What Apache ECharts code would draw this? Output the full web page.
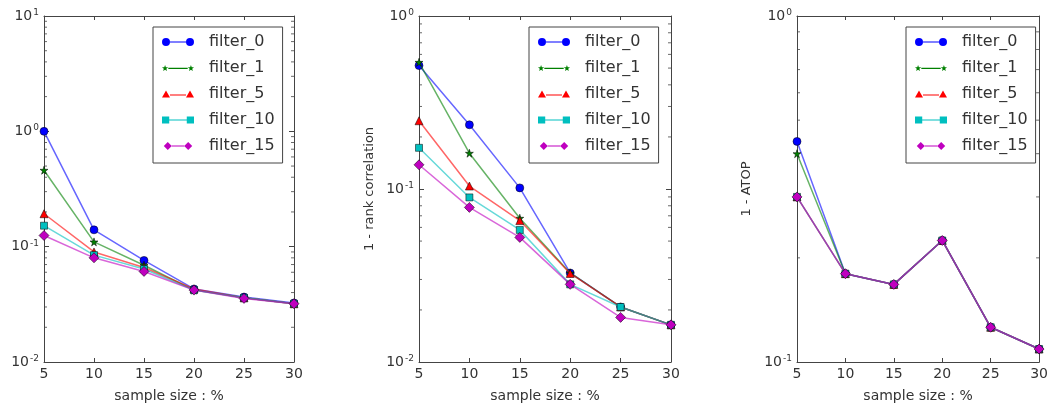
<!DOCTYPE html>
<html>
<head>
<meta charset="utf-8">
<script src="https://cdn.jsdelivr.net/npm/echarts@6/dist/echarts.min.js"></script>
<style>
  html, body { margin: 0; padding: 0; background: #fff; }
  #chart { width: 1051px; height: 408px; }
</style>
</head>
<body>
<div id="chart"></div>
<script>
const sampleSizes = [5, 10, 15, 20, 25, 30]
const filterNames = ['filter_0', 'filter_1', 'filter_5', 'filter_10', 'filter_15']

// panel 1 (no y label)
const errFilter0 = [1.0, 0.14, 0.076, 0.043, 0.0366, 0.0325]
const errFilter1 = [0.46, 0.11, 0.069, 0.042, 0.036, 0.032]
const errFilter5 = [0.193, 0.090, 0.066, 0.043, 0.036, 0.032]
const errFilter10 = [0.152, 0.0845, 0.064, 0.042, 0.036, 0.032]
const errFilter15 = [0.125, 0.080, 0.061, 0.042, 0.0356, 0.032]

// panel 2 : 1 - rank correlation
const rankFilter0 = [0.517, 0.235, 0.1015, 0.0327, 0.0208, 0.0164]
const rankFilter1 = [0.54, 0.161, 0.0678, 0.0327, 0.0208, 0.0164]
const rankFilter5 = [0.248, 0.104, 0.0657, 0.0325, 0.0208, 0.0164]
const rankFilter10 = [0.173, 0.0894, 0.058, 0.0281, 0.0208, 0.0164]
const rankFilter15 = [0.138, 0.0783, 0.0525, 0.0281, 0.0181, 0.0164]

// panel 3 : 1 - ATOP
const atopFilter0 = [0.434, 0.180, 0.1676, 0.2245, 0.126, 0.109]
const atopFilter1 = [0.400, 0.180, 0.1676, 0.2245, 0.126, 0.109]
const atopFilter5 = [0.300, 0.180, 0.1676, 0.2245, 0.126, 0.109]
const atopFilter10 = [0.300, 0.180, 0.1676, 0.2245, 0.126, 0.109]
const atopFilter15 = [0.300, 0.180, 0.1676, 0.2245, 0.126, 0.109]

const panels = [
  { yName: '', yMin: 0.01, yMax: 10, left: 44, width: 250, legendLeft: 153, nameGap: 43,
    data: [errFilter0, errFilter1, errFilter5, errFilter10, errFilter15] },
  { yName: '1 - rank correlation', yMin: 0.01, yMax: 1, left: 419, width: 252, legendLeft: 529, nameGap: 43,
    data: [rankFilter0, rankFilter1, rankFilter5, rankFilter10, rankFilter15] },
  { yName: '1 - ATOP', yMin: 0.1, yMax: 1, left: 797, width: 250, legendLeft: 906, nameGap: 44,
    data: [atopFilter0, atopFilter1, atopFilter5, atopFilter10, atopFilter15] }
]

const colors = ['#0000ff', '#008000', '#ff0000', '#00bfbf', '#bf00bf']
const starSym = 'path://M50,0L61,35L98,35L68,57L79,91L50,70L21,91L32,57L2,35L39,35Z'
const symbols = ['circle', starSym, 'triangle', 'rect', 'diamond']
const symbolSizes = [8, 8, 8, 7, 10]

const axisColor = '#444'
const textColor = '#333'
const font = 'DejaVu Sans'

// legend icons : line with a marker at each end
const circ = (cx, cy, r) => `M${cx - r},${cy}a${r},${r} 0 1,0 ${2 * r},0a${r},${r} 0 1,0 ${-2 * r},0Z`
const tri = (cx, cy, r) => `M${cx},${cy - r}L${cx + r},${cy + r * 0.8}L${cx - r},${cy + r * 0.8}Z`
const sq = (cx, cy, r) => `M${cx - r},${cy - r}H${cx + r}V${cy + r}H${cx - r}Z`
const dia = (cx, cy, r) => `M${cx},${cy - r}L${cx + r},${cy}L${cx},${cy + r}L${cx - r},${cy}Z`
const star = (cx, cy, r) => {
  let s = ''
  for (let i = 0; i < 10; i++) {
    const a = -Math.PI / 2 + i * Math.PI / 5
    const rr = i % 2 ? r * 0.42 : r
    s += (i ? 'L' : 'M') + (cx + rr * Math.cos(a)).toFixed(2) + ',' + (cy + rr * Math.sin(a)).toFixed(2)
  }
  return s + 'Z'
}
const seg = (a, b, cy) => `M${a},${cy - 0.6}H${b}V${cy + 0.6}H${a}Z`
const legendIcons = [
  'path://' + circ(4, 4, 4) + seg(8, 24, 4) + circ(28, 4, 4),
  'path://' + star(4, 4, 3) + seg(7, 25, 4) + star(28, 4, 3),
  'path://' + tri(4, 4, 4) + seg(8, 24, 4.6) + tri(28, 4, 4),
  'path://' + sq(4, 4, 3.5) + seg(7.5, 24.5, 4) + sq(28, 4, 3.5),
  'path://' + dia(4.5, 4.5, 4.5) + seg(9, 23, 4.5) + dia(27.5, 4.5, 4.5)
]

const supLabel = v => {
  const e = Math.round(Math.log10(v))
  return '{b|10}{s|' + e + '}'
}

// minor log ticks 2..9 of every decade
const minorValues = (lo, hi, x) => {
  const out = []
  for (let e = Math.round(Math.log10(lo)); e < Math.round(Math.log10(hi)); e++) {
    for (let k = 2; k <= 9; k++) out.push([x, k * Math.pow(10, e)])
  }
  return out
}

const grid = []
const xAxis = []
const yAxis = []
const series = []
const legend = []

panels.forEach((p, i) => {
  grid.push({ left: p.left, top: 16, width: p.width, height: 349, show: false })
  const xBase = {
    gridIndex: i, type: 'value', min: 5, max: 30, interval: 5,
    axisLine: { show: true, lineStyle: { color: axisColor, width: 1 } },
    axisTick: { show: true, inside: true, length: 4, lineStyle: { color: axisColor } },
    splitLine: { show: false }
  }
  xAxis.push(Object.assign({}, xBase, {
    position: 'bottom',
    name: 'sample size : %', nameLocation: 'middle', nameGap: 27,
    nameTextStyle: { fontFamily: font, fontSize: 14, color: textColor },
    axisLabel: { fontFamily: font, fontSize: 14, color: textColor, margin: 5 }
  }))
  xAxis.push(Object.assign({}, xBase, { position: 'top', axisLabel: { show: false } }))
  const yBase = {
    gridIndex: i, type: 'log', logBase: 10, min: p.yMin, max: p.yMax,
    axisLine: { show: true, lineStyle: { color: axisColor, width: 1 } },
    axisTick: { show: true, inside: true, length: 5, lineStyle: { color: axisColor } },
    splitLine: { show: false }
  }
  yAxis.push(Object.assign({}, yBase, {
    position: 'left',
    name: p.yName, nameLocation: 'middle', nameGap: p.nameGap,
    nameTextStyle: { fontFamily: font, fontSize: 13, color: textColor },
    axisLabel: {
      margin: 5, formatter: supLabel,
      rich: {
        b: { fontFamily: font, fontSize: 14, color: textColor, lineHeight: 16 },
        s: { fontFamily: font, fontSize: 9, color: textColor, verticalAlign: 'top', lineHeight: 16, padding: [0, 0, 8, 1] }
      }
    }
  }))
  yAxis.push(Object.assign({}, yBase, { position: 'right', axisLabel: { show: false } }))

  p.data.forEach((vals, k) => {
    series.push({
      name: filterNames[k],
      type: 'line',
      xAxisIndex: 2 * i, yAxisIndex: 2 * i,
      data: sampleSizes.map((x, j) => [x, vals[j]]),
      symbol: symbols[k],
      symbolSize: symbolSizes[k],
      showAllSymbol: true,
      clip: false,
      lineStyle: { color: colors[k], width: 1.5, opacity: 0.6 },
      itemStyle: { color: colors[k], borderColor: '#000', borderWidth: 0.5 },
      emphasis: { disabled: true },
      z: 2 + k
    })
  })

  // minor ticks, left and right edges, pointing inward
  const tickSeries = (x, off) => ({
    type: 'scatter',
    xAxisIndex: 2 * i, yAxisIndex: 2 * i,
    silent: true,
    clip: false,
    data: minorValues(p.yMin, p.yMax, x),
    symbol: 'rect',
    symbolSize: [3, 1],
    symbolOffset: [off, 0],
    itemStyle: { color: axisColor },
    z: 1
  })
  series.push(tickSeries(5, 1.5), tickSeries(30, -1.5))

  legend.push({
    left: p.legendLeft, top: 27,
    orient: 'vertical',
    data: filterNames.map((n, k) => ({ name: n, icon: legendIcons[k] })),
    itemWidth: 32, itemHeight: 8, itemGap: 10,
    padding: [7, 8, 9, 9],
    borderColor: axisColor, borderWidth: 1,
    backgroundColor: '#fff',
    selectedMode: false,
    itemStyle: { borderWidth: 0 },
    textStyle: { fontFamily: font, fontSize: 16, color: textColor, padding: [0, 0, 0, 10], lineHeight: 16 }
  })
})

const myChart = echarts.init(document.getElementById('chart'))
const option = {
  animation: false,
  backgroundColor: '#fff',
  grid, xAxis, yAxis, series, legend
}
option && myChart.setOption(option)
</script>
</body>
</html>
